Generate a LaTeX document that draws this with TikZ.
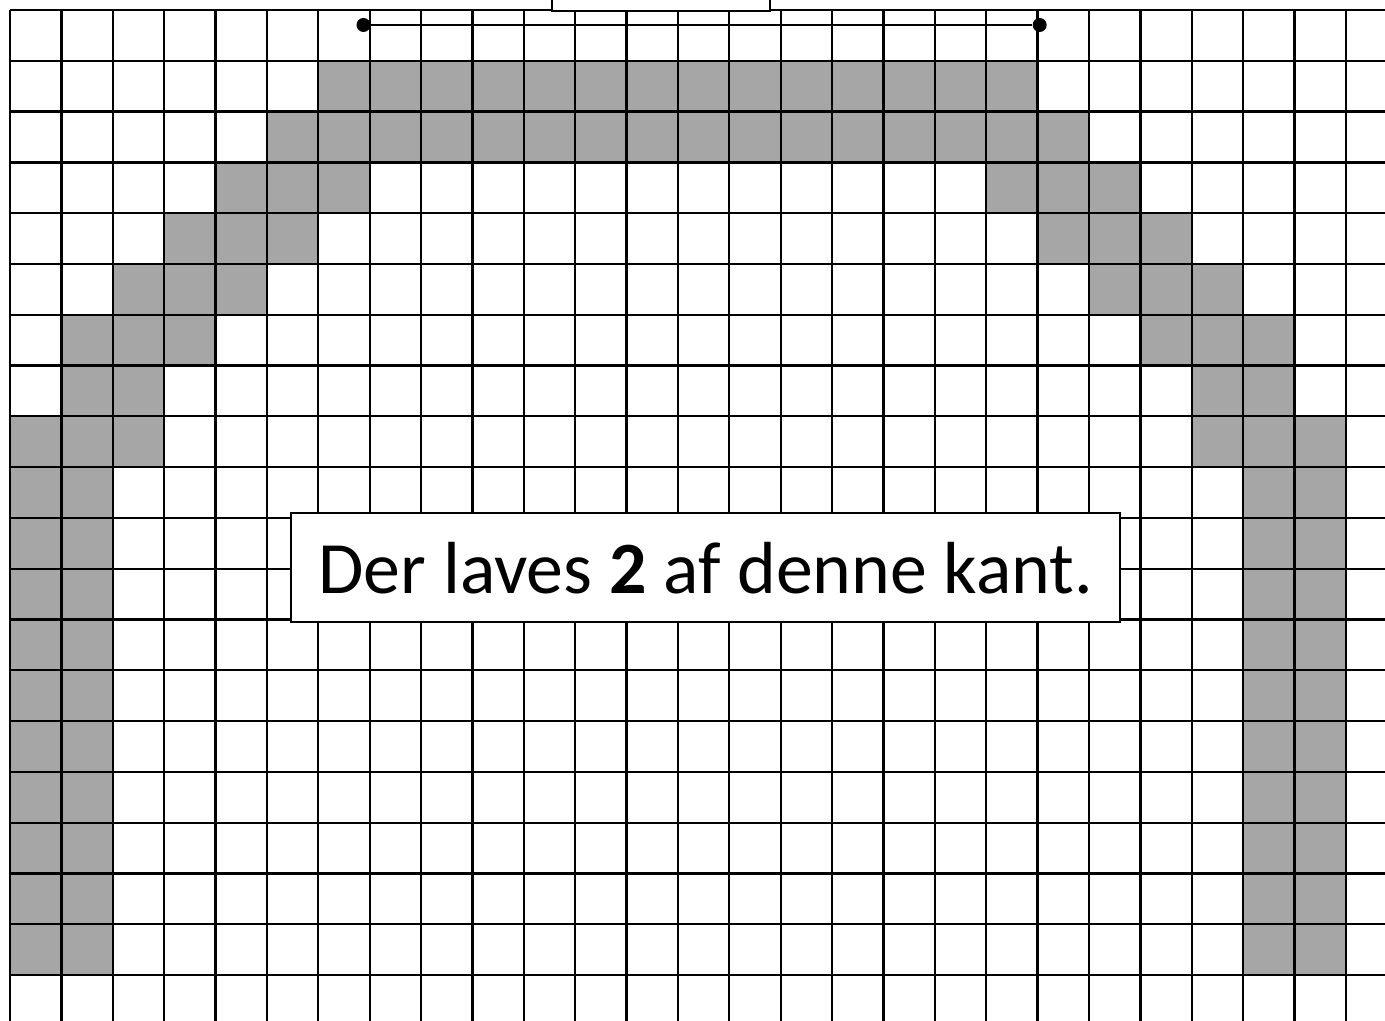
\documentclass[tikz,border=0pt]{standalone}
\usepackage{fontspec}
\setmainfont{Carlito}
\usepackage{tikz}
\usetikzlibrary{positioning}
\definecolor{shade}{HTML}{A6A6A6}

\begin{document}
\begin{tikzpicture}[
    x=1.0276cm, y=-1.0158cm,
    cell/.style={fill=shade},
    gridline/.style={line width=1.3pt},
    box/.style={
	draw,
	fill=white,
	line width=1.2pt,
	inner sep=0pt
    },
    dot/.style={circle, fill=black, inner sep=0pt, minimum size=0.28cm}
]
	\clip (-0.1946,-0.1969) rectangle (26.761,19.886);

	% Shaded edge, left half and its mirror
	\foreach \r/\a/\b in {1/6/12, 2/5/12, 3/4/6, 4/3/5, 5/2/4, 6/1/3, 7/1/2, 8/0/2} {
	    \fill[cell] (\a,\r) rectangle (\b+1,\r+1);
	    \fill[cell] ({25-\b},\r) rectangle ({26-\a},\r+1);
	}
	\foreach \r in {9,...,18} {
	    \fill[cell] (0,\r) rectangle (2,\r+1);
	    \fill[cell] (24,\r) rectangle (26,\r+1);
	}

	% Grid
	\foreach \i in {0,...,26}
	    \draw[gridline] (\i,0) -- (\i,20);
	\foreach \j in {0,...,19}
	    \draw[gridline] (0,\j) -- (27,\j);

	% Measure line
	\node[dot] (left) at (6.88,0.295) {};
	\node[dot] (right) at (20.04,0.295) {};
	\draw[line width=1.1pt] (left) -- (right);

	% Boxes
	\node[box, anchor=south, minimum width=4.36cm, minimum height=1.2cm] (label) at (12.67,0.04) {};
	\node[box, minimum width=16.58cm, minimum height=2.18cm,
	    font=\fontsize{42}{50}\selectfont] (note) at (13.54,10.98)
	    {Der laves \textbf{2} af denne kant.};
\end{tikzpicture}
\end{document}
